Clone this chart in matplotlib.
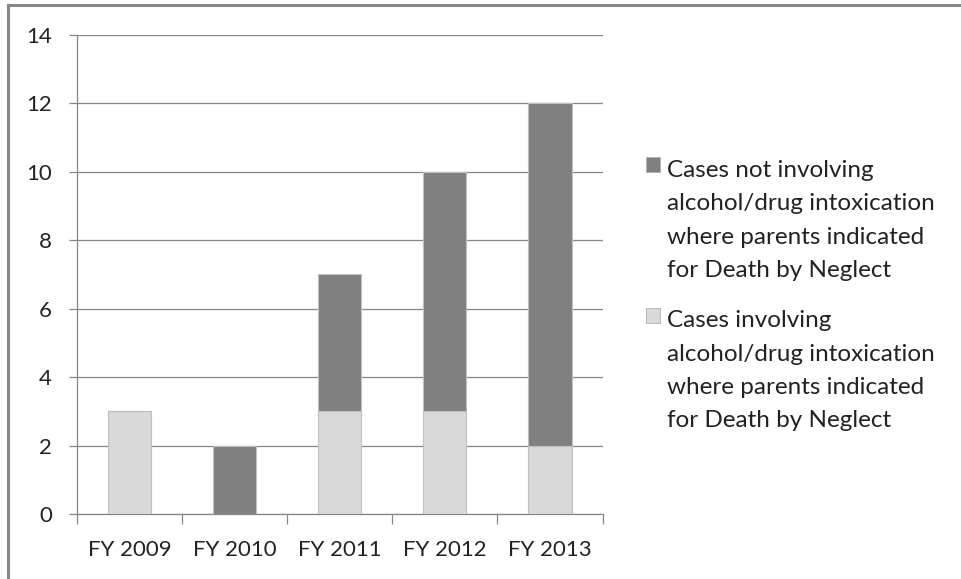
import matplotlib
matplotlib.use("Agg")
import matplotlib.pyplot as plt
from matplotlib.lines import Line2D
from matplotlib.patches import Rectangle
from matplotlib.legend_handler import HandlerPatch
import numpy as np

categories = ["FY 2009", "FY 2010", "FY 2011", "FY 2012", "FY 2013"]
involving = [3, 0, 3, 3, 2]
not_involving = [0, 2, 4, 7, 10]
label_not = "Cases not involving\nalcohol/drug intoxication\nwhere parents indicated\nfor Death by Neglect"
label_inv = "Cases involving\nalcohol/drug intoxication\nwhere parents indicated\nfor Death by Neglect"
yticks = [0, 2, 4, 6, 8, 10, 12, 14]

plt.rcParams['font.family'] = ['Lato', 'DejaVu Sans']

LEG_FS = 17.5
LINESP = 1.71

fig = plt.figure(figsize=(9.61, 5.79), dpi=100)
ax = fig.add_axes([0.080, 0.112, 0.547, 0.828])

x = np.arange(len(categories))
w = 0.41
b1 = ax.bar(x, involving, w, color="#d9d9d9", edgecolor="#c0c0c0", linewidth=0.8, zorder=3)
b2 = ax.bar(x, not_involving, w, bottom=involving, color="#808080", edgecolor="#c0c0c0", linewidth=0.8, zorder=3)

ax.set_xlim(-0.5, len(categories) - 0.5)
ax.set_ylim(0, 14)
ax.set_yticks(yticks)
ax.set_yticklabels([str(v) for v in yticks], fontsize=16, color="#222222")
ax.yaxis.grid(True, color="#868686", linewidth=0.9, zorder=0)
ax.set_axisbelow(True)
ax.set_xticks(x)
ax.set_xticklabels(categories, fontsize=16, color="#222222")
ax.set_xticks(np.arange(len(categories) + 1) - 0.5, minor=True)
ax.tick_params(axis='x', which='major', length=0, pad=18.5)
ax.tick_params(axis='x', which='minor', length=7, color="#868686", width=0.9)
ax.tick_params(axis='y', length=6, color="#868686", width=0.9, pad=12)
for s in ["top", "right"]:
    ax.spines[s].set_visible(False)
for s in ["left", "bottom"]:
    ax.spines[s].set_color("#868686")
    ax.spines[s].set_linewidth(0.9)


class TopHandler(HandlerPatch):
    def create_artists(self, legend, orig_handle, xdescent, ydescent, width, height, fontsize, trans):
        shift = 1.5 * LINESP * 0.89 * fontsize
        p = Rectangle((-xdescent, -ydescent + shift), width, height,
                      facecolor=orig_handle.get_facecolor(), edgecolor="#b0b0b0", linewidth=0.6)
        p.set_transform(trans)
        return [p]


leg = fig.legend([b2.patches[0], b1.patches[0]], [label_not, label_inv], loc="upper left",
                 bbox_to_anchor=(0.672, 0.723), frameon=False, fontsize=LEG_FS,
                 handlelength=0.57, handleheight=0.57, handletextpad=0.3,
                 labelspacing=1.23, borderaxespad=0, borderpad=0,
                 handler_map={Rectangle: TopHandler()})
for t in leg.get_texts():
    t.set_color("#222222")
    t.set_linespacing(LINESP)

fig.add_artist(Line2D([0.008, 1.0], [0.992, 0.992], transform=fig.transFigure, color="#888888", linewidth=2.2))
fig.add_artist(Line2D([0.0085, 0.0085], [0.0, 0.992], transform=fig.transFigure, color="#888888", linewidth=2.2))

fig.savefig("out.png", dpi=100)
